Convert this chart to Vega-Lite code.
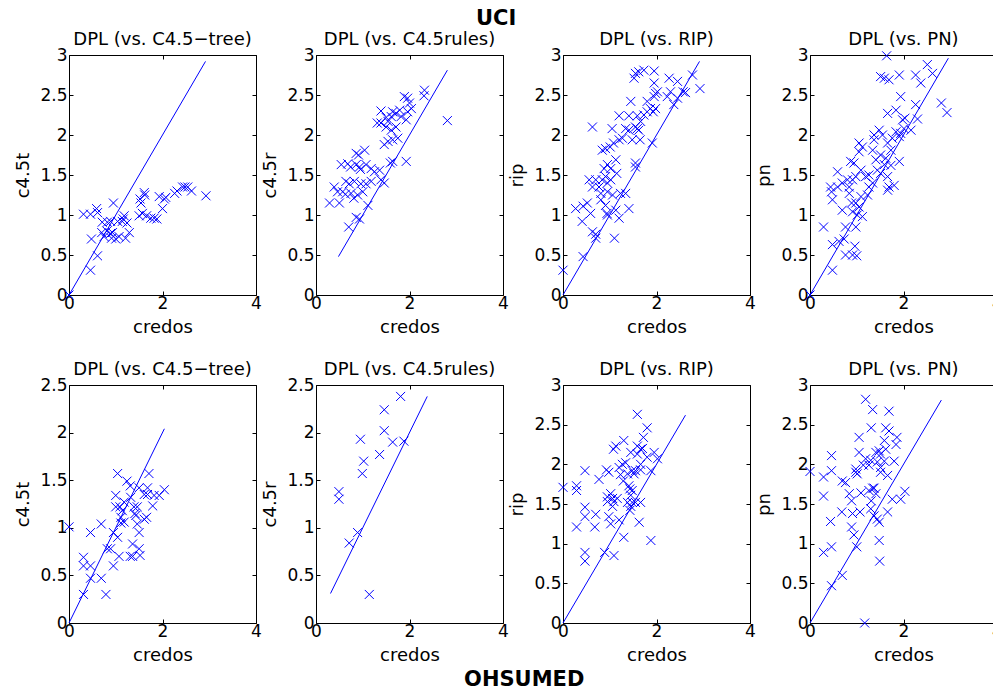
{
"$schema": "https://vega.github.io/schema/vega-lite/v6.json",
"padding": {"left": 13, "top": 7, "right": -8, "bottom": -2},
"background": "white",
"config": {
  "view": {"stroke": "black", "strokeWidth": 1},
  "point": {"shape": "M-1,-1L1,1M-1,1L1,-1", "filled": false, "color": "#0000ff", "size": 81, "strokeWidth": 1, "opacity": 1},
  "line": {"color": "#0000ff", "strokeWidth": 1},
  "axis": {"grid": false, "domain": false, "tickColor": "black", "tickSize": -4, "labelFont": "DejaVu Sans", "labelFontSize": 17, "labelColor": "black", "titleFont": "DejaVu Sans", "titleFontSize": 18, "titleFontWeight": "normal", "titleColor": "black", "labelFlush": false, "labelOverlap": false},
  "axisX": {"labelPadding": 4, "titleY": 37, "titleBaseline": "alphabetic"},
  "axisY": {"labelPadding": 6, "titleX": -41, "titleBaseline": "alphabetic"},
  "title": {"font": "DejaVu Sans", "fontSize": 18, "fontWeight": "normal", "color": "black", "frame": "group", "baseline": "alphabetic", "offset": -3, "anchor": "middle"}
},
"datasets": {
"p1": [{"credos":0,"value":0},{"credos":0.31,"value":1.01},{"credos":0.46,"value":1.01},{"credos":0.59,"value":1.08},{"credos":0.61,"value":1.03},{"credos":0.48,"value":0.70},{"credos":0.61,"value":0.49},{"credos":0.46,"value":0.31},{"credos":0.95,"value":1.15},{"credos":0.71,"value":0.91},{"credos":0.82,"value":0.91},{"credos":0.89,"value":0.92},{"credos":1.04,"value":0.92},{"credos":1.18,"value":0.99},{"credos":1.16,"value":0.95},{"credos":0.70,"value":0.78},{"credos":0.81,"value":0.80},{"credos":0.89,"value":0.77},{"credos":0.93,"value":0.78},{"credos":0.75,"value":0.73},{"credos":0.91,"value":0.71},{"credos":1.07,"value":0.73},{"credos":1.21,"value":0.71},{"credos":1.29,"value":0.78},{"credos":1.14,"value":0.92},{"credos":1.24,"value":0.90},{"credos":1.0,"value":0.70},{"credos":1.5,"value":0.99},{"credos":1.57,"value":1.02},{"credos":1.66,"value":0.99},{"credos":1.75,"value":0.96},{"credos":1.82,"value":0.96},{"credos":1.88,"value":0.95},{"credos":1.52,"value":1.20},{"credos":1.61,"value":1.28},{"credos":1.62,"value":1.25},{"credos":1.54,"value":1.15},{"credos":1.93,"value":1.23},{"credos":2.04,"value":1.20},{"credos":2.0,"value":1.08},{"credos":2.07,"value":1.22},{"credos":2.26,"value":1.27},{"credos":2.31,"value":1.30},{"credos":2.43,"value":1.35},{"credos":2.48,"value":1.35},{"credos":2.54,"value":1.35},{"credos":2.62,"value":1.30},{"credos":2.93,"value":1.24}],
"p2": [{"credos":0.29,"value":1.15},{"credos":0.5,"value":1.15},{"credos":0.39,"value":1.35},{"credos":0.46,"value":1.29},{"credos":0.57,"value":1.29},{"credos":0.63,"value":1.26},{"credos":0.70,"value":0.85},{"credos":0.86,"value":0.97},{"credos":0.93,"value":0.95},{"credos":1.11,"value":1.12},{"credos":0.64,"value":1.42},{"credos":0.71,"value":1.39},{"credos":0.82,"value":1.42},{"credos":0.96,"value":1.39},{"credos":1.07,"value":1.39},{"credos":1.18,"value":1.42},{"credos":0.54,"value":1.63},{"credos":0.68,"value":1.64},{"credos":0.74,"value":1.60},{"credos":0.86,"value":1.63},{"credos":0.93,"value":1.60},{"credos":0.95,"value":1.57},{"credos":1.07,"value":1.63},{"credos":1.18,"value":1.58},{"credos":0.86,"value":1.77},{"credos":0.91,"value":1.75},{"credos":1.04,"value":1.81},{"credos":0.89,"value":1.25},{"credos":0.81,"value":1.21},{"credos":0.75,"value":1.27},{"credos":1.0,"value":1.29},{"credos":1.39,"value":1.44},{"credos":1.46,"value":1.40},{"credos":1.36,"value":1.56},{"credos":1.25,"value":1.54},{"credos":1.59,"value":1.65},{"credos":1.64,"value":1.67},{"credos":1.93,"value":1.67},{"credos":1.46,"value":1.88},{"credos":1.54,"value":1.92},{"credos":1.64,"value":1.94},{"credos":1.75,"value":1.96},{"credos":1.31,"value":2.15},{"credos":1.5,"value":2.10},{"credos":1.61,"value":2.06},{"credos":1.71,"value":2.10},{"credos":1.39,"value":2.30},{"credos":1.5,"value":2.22},{"credos":1.54,"value":2.17},{"credos":1.61,"value":2.23},{"credos":1.71,"value":2.27},{"credos":1.79,"value":2.31},{"credos":1.82,"value":2.23},{"credos":1.93,"value":2.19},{"credos":1.89,"value":2.48},{"credos":1.96,"value":2.46},{"credos":2.0,"value":2.40},{"credos":2.04,"value":2.33},{"credos":1.96,"value":2.29},{"credos":2.32,"value":2.56},{"credos":2.31,"value":2.49},{"credos":2.81,"value":2.18},{"credos":1.64,"value":2.29},{"credos":1.39,"value":2.15}],
"p3": [{"credos":0,"value":0.31},{"credos":0.43,"value":0.48},{"credos":0.27,"value":1.08},{"credos":0.43,"value":1.11},{"credos":0.52,"value":1.15},{"credos":0.41,"value":0.92},{"credos":0.59,"value":1.02},{"credos":0.63,"value":0.79},{"credos":0.70,"value":0.76},{"credos":0.70,"value":0.71},{"credos":1.1,"value":0.71},{"credos":1.2,"value":0.96},{"credos":1.41,"value":1.08},{"credos":0.56,"value":1.44},{"credos":0.63,"value":1.35},{"credos":0.70,"value":1.44},{"credos":0.77,"value":1.35},{"credos":0.84,"value":1.44},{"credos":0.95,"value":1.40},{"credos":1.02,"value":1.44},{"credos":0.81,"value":1.27},{"credos":0.95,"value":1.29},{"credos":1.06,"value":1.25},{"credos":0.91,"value":1.12},{"credos":0.94,"value":1.02},{"credos":0.95,"value":1.0},{"credos":1.13,"value":1.06},{"credos":1.23,"value":1.27},{"credos":1.34,"value":1.27},{"credos":0.81,"value":1.19},{"credos":0.88,"value":1.58},{"credos":0.95,"value":1.63},{"credos":1.02,"value":1.58},{"credos":1.13,"value":1.69},{"credos":1.15,"value":1.52},{"credos":0.91,"value":1.48},{"credos":0.84,"value":1.81},{"credos":0.91,"value":1.83},{"credos":1.01,"value":1.85},{"credos":1.08,"value":1.90},{"credos":0.63,"value":2.10},{"credos":1.05,"value":2.08},{"credos":1.2,"value":1.94},{"credos":1.27,"value":1.96},{"credos":1.2,"value":2.24},{"credos":1.34,"value":2.08},{"credos":1.41,"value":2.06},{"credos":1.48,"value":1.94},{"credos":1.45,"value":2.42},{"credos":1.41,"value":2.24},{"credos":1.59,"value":2.24},{"credos":1.55,"value":2.10},{"credos":1.62,"value":2.06},{"credos":1.65,"value":1.94},{"credos":1.59,"value":2.08},{"credos":1.66,"value":2.17},{"credos":1.73,"value":2.25},{"credos":1.80,"value":2.29},{"credos":1.87,"value":2.33},{"credos":1.80,"value":2.42},{"credos":1.93,"value":2.29},{"credos":1.98,"value":2.33},{"credos":1.95,"value":2.48},{"credos":1.98,"value":2.52},{"credos":2.02,"value":2.54},{"credos":1.95,"value":2.65},{"credos":1.55,"value":2.77},{"credos":1.62,"value":2.79},{"credos":1.73,"value":2.81},{"credos":1.95,"value":2.80},{"credos":1.52,"value":2.71},{"credos":1.55,"value":1.65},{"credos":1.55,"value":1.60},{"credos":1.91,"value":1.90},{"credos":2.27,"value":2.71},{"credos":2.45,"value":2.67},{"credos":2.30,"value":2.54},{"credos":2.45,"value":2.46},{"credos":2.37,"value":2.38},{"credos":2.62,"value":2.53},{"credos":2.77,"value":2.75},{"credos":2.93,"value":2.58},{"credos":2.57,"value":2.54},{"credos":2.23,"value":2.48}],
"p4": [{"credos":0,"value":0},{"credos":0.29,"value":0.85},{"credos":0.48,"value":0.31},{"credos":0.48,"value":0.63},{"credos":0.62,"value":0.67},{"credos":0.73,"value":0.70},{"credos":0.76,"value":0.50},{"credos":0.91,"value":0.50},{"credos":1.0,"value":0.49},{"credos":0.96,"value":0.61},{"credos":0.98,"value":0.85},{"credos":0.76,"value":0.85},{"credos":0.69,"value":1.06},{"credos":0.48,"value":1.19},{"credos":0.44,"value":1.35},{"credos":0.46,"value":1.29},{"credos":0.59,"value":1.54},{"credos":0.59,"value":1.35},{"credos":0.69,"value":1.40},{"credos":0.80,"value":1.44},{"credos":0.91,"value":1.44},{"credos":0.98,"value":1.48},{"credos":0.84,"value":1.35},{"credos":0.84,"value":1.27},{"credos":0.89,"value":1.15},{"credos":0.91,"value":1.04},{"credos":0.98,"value":1.15},{"credos":1.09,"value":1.23},{"credos":1.05,"value":1.10},{"credos":1.12,"value":0.98},{"credos":1.01,"value":1.0},{"credos":1.23,"value":1.25},{"credos":1.26,"value":1.35},{"credos":1.34,"value":1.40},{"credos":1.19,"value":1.48},{"credos":1.26,"value":1.50},{"credos":0.87,"value":1.67},{"credos":0.94,"value":1.65},{"credos":1.05,"value":1.79},{"credos":1.12,"value":1.85},{"credos":1.05,"value":1.90},{"credos":1.37,"value":2.0},{"credos":1.48,"value":2.06},{"credos":1.55,"value":2.0},{"credos":1.41,"value":1.69},{"credos":1.51,"value":1.75},{"credos":1.62,"value":1.71},{"credos":1.59,"value":1.63},{"credos":1.44,"value":1.56},{"credos":1.51,"value":1.52},{"credos":1.66,"value":1.48},{"credos":1.69,"value":1.35},{"credos":1.80,"value":1.37},{"credos":1.66,"value":1.31},{"credos":1.73,"value":1.62},{"credos":1.91,"value":1.67},{"credos":1.66,"value":1.90},{"credos":1.73,"value":1.81},{"credos":1.76,"value":1.96},{"credos":1.84,"value":2.04},{"credos":1.91,"value":1.98},{"credos":1.94,"value":2.02},{"credos":2.01,"value":2.08},{"credos":1.98,"value":2.19},{"credos":2.03,"value":2.21},{"credos":1.84,"value":2.31},{"credos":1.66,"value":2.27},{"credos":1.94,"value":2.48},{"credos":1.51,"value":2.73},{"credos":1.59,"value":2.71},{"credos":1.69,"value":2.69},{"credos":1.91,"value":2.75},{"credos":1.64,"value":2.99},{"credos":2.26,"value":2.75},{"credos":2.37,"value":2.65},{"credos":2.51,"value":2.88},{"credos":2.62,"value":2.77},{"credos":2.26,"value":2.38},{"credos":2.30,"value":2.20},{"credos":2.81,"value":2.40},{"credos":2.93,"value":2.28},{"credos":2.16,"value":2.06},{"credos":1.34,"value":1.81},{"credos":1.37,"value":1.94},{"credos":1.09,"value":1.56}],
"p5": [{"credos":0,"value":1.01},{"credos":0.31,"value":0.69},{"credos":0.31,"value":0.60},{"credos":0.46,"value":0.60},{"credos":0.46,"value":0.95},{"credos":0.69,"value":1.04},{"credos":0.46,"value":0.47},{"credos":0.69,"value":0.47},{"credos":0.31,"value":0.30},{"credos":0.79,"value":0.30},{"credos":0.82,"value":0.78},{"credos":0.89,"value":0.78},{"credos":0.95,"value":0.60},{"credos":0.95,"value":0.95},{"credos":1.04,"value":0.90},{"credos":1.0,"value":1.34},{"credos":1.04,"value":1.57},{"credos":1.07,"value":0.70},{"credos":1.0,"value":1.22},{"credos":1.09,"value":1.22},{"credos":1.18,"value":1.27},{"credos":1.11,"value":1.05},{"credos":1.18,"value":1.06},{"credos":1.24,"value":1.49},{"credos":1.31,"value":1.44},{"credos":1.32,"value":1.32},{"credos":1.39,"value":1.22},{"credos":1.36,"value":0.83},{"credos":1.31,"value":0.70},{"credos":1.36,"value":0.70},{"credos":1.43,"value":1.13},{"credos":1.46,"value":1.22},{"credos":1.41,"value":1.15},{"credos":1.5,"value":0.95},{"credos":1.5,"value":0.78},{"credos":1.52,"value":0.71},{"credos":1.46,"value":1.04},{"credos":1.5,"value":1.42},{"credos":1.61,"value":1.35},{"credos":1.68,"value":1.35},{"credos":1.71,"value":1.57},{"credos":1.66,"value":1.11},{"credos":1.61,"value":1.09},{"credos":1.79,"value":1.23},{"credos":1.82,"value":1.34},{"credos":1.93,"value":1.34},{"credos":2.04,"value":1.40},{"credos":1.68,"value":1.42},{"credos":1.11,"value":1.11},{"credos":1.14,"value":1.18}],
"p6": [{"credos":0.49,"value":1.38},{"credos":0.49,"value":1.30},{"credos":0.71,"value":0.84},{"credos":0.89,"value":0.95},{"credos":0.95,"value":1.93},{"credos":1.02,"value":1.70},{"credos":0.99,"value":1.57},{"credos":1.14,"value":0.30},{"credos":1.36,"value":1.77},{"credos":1.46,"value":2.02},{"credos":1.46,"value":2.24},{"credos":1.64,"value":1.90},{"credos":1.88,"value":1.91},{"credos":1.81,"value":2.38}],
"p7": [{"credos":0,"value":1.71},{"credos":0.29,"value":1.73},{"credos":0.29,"value":1.67},{"credos":0.29,"value":1.21},{"credos":0.47,"value":1.92},{"credos":0.47,"value":1.46},{"credos":0.47,"value":1.34},{"credos":0.47,"value":0.89},{"credos":0.47,"value":0.78},{"credos":0.70,"value":1.37},{"credos":0.68,"value":1.21},{"credos":0.77,"value":1.81},{"credos":0.89,"value":0.89},{"credos":0.93,"value":1.93},{"credos":0.98,"value":1.90},{"credos":0.95,"value":1.59},{"credos":1.02,"value":1.63},{"credos":1.06,"value":1.57},{"credos":0.95,"value":1.53},{"credos":1.09,"value":1.53},{"credos":1.16,"value":1.57},{"credos":0.98,"value":1.34},{"credos":1.02,"value":1.25},{"credos":1.2,"value":1.30},{"credos":1.09,"value":0.85},{"credos":1.30,"value":1.08},{"credos":1.06,"value":1.47},{"credos":1.08,"value":2.19},{"credos":1.13,"value":2.23},{"credos":1.30,"value":2.30},{"credos":1.2,"value":1.96},{"credos":1.27,"value":2.0},{"credos":1.34,"value":2.02},{"credos":1.23,"value":1.87},{"credos":1.29,"value":1.79},{"credos":1.38,"value":1.88},{"credos":1.45,"value":2.15},{"credos":1.41,"value":1.73},{"credos":1.43,"value":1.69},{"credos":1.48,"value":1.67},{"credos":1.45,"value":1.61},{"credos":1.48,"value":1.52},{"credos":1.38,"value":1.52},{"credos":1.43,"value":1.42},{"credos":1.45,"value":1.47},{"credos":1.55,"value":1.52},{"credos":1.59,"value":2.63},{"credos":1.59,"value":2.23},{"credos":1.66,"value":2.19},{"credos":1.59,"value":2.13},{"credos":1.72,"value":2.34},{"credos":1.70,"value":2.20},{"credos":1.80,"value":2.46},{"credos":1.80,"value":2.09},{"credos":1.95,"value":2.15},{"credos":2.02,"value":2.07},{"credos":1.88,"value":1.92},{"credos":1.63,"value":1.27},{"credos":1.66,"value":1.52},{"credos":1.48,"value":1.92},{"credos":1.55,"value":1.92},{"credos":1.66,"value":1.93},{"credos":1.88,"value":1.04},{"credos":1.66,"value":2.0},{"credos":1.52,"value":1.88}],
"p8": [{"credos":0,"value":1.91},{"credos":0.29,"value":0.89},{"credos":0.29,"value":1.84},{"credos":0.29,"value":1.60},{"credos":0.46,"value":2.11},{"credos":0.46,"value":1.92},{"credos":0.44,"value":1.28},{"credos":0.46,"value":0.96},{"credos":0.46,"value":0.47},{"credos":0.69,"value":0.60},{"credos":0.69,"value":1.79},{"credos":0.76,"value":1.77},{"credos":0.68,"value":1.40},{"credos":0.84,"value":1.63},{"credos":0.89,"value":1.54},{"credos":0.89,"value":1.21},{"credos":0.94,"value":1.11},{"credos":0.91,"value":1.38},{"credos":0.98,"value":1.90},{"credos":0.98,"value":1.94},{"credos":1.01,"value":1.88},{"credos":1.0,"value":0.96},{"credos":1.05,"value":2.34},{"credos":1.05,"value":2.15},{"credos":1.07,"value":1.40},{"credos":1.09,"value":1.64},{"credos":1.19,"value":2.82},{"credos":1.17,"value":0},{"credos":1.14,"value":1.99},{"credos":1.19,"value":2.07},{"credos":1.3,"value":2.05},{"credos":1.26,"value":1.67},{"credos":1.31,"value":2.46},{"credos":1.34,"value":2.69},{"credos":1.34,"value":1.70},{"credos":1.37,"value":1.70},{"credos":1.31,"value":1.54},{"credos":1.3,"value":1.44},{"credos":1.37,"value":1.35},{"credos":1.44,"value":1.31},{"credos":1.48,"value":1.27},{"credos":1.48,"value":1.04},{"credos":1.49,"value":0.78},{"credos":1.41,"value":1.63},{"credos":1.41,"value":2.15},{"credos":1.48,"value":2.17},{"credos":1.51,"value":2.13},{"credos":1.44,"value":2.03},{"credos":1.51,"value":1.96},{"credos":1.51,"value":1.90},{"credos":1.59,"value":2.30},{"credos":1.62,"value":2.46},{"credos":1.69,"value":2.42},{"credos":1.69,"value":2.67},{"credos":1.62,"value":2.19},{"credos":1.66,"value":1.86},{"credos":1.66,"value":1.40},{"credos":1.76,"value":1.56},{"credos":1.80,"value":2.04},{"credos":1.84,"value":2.25},{"credos":1.86,"value":2.34},{"credos":1.94,"value":1.56},{"credos":2.03,"value":1.66},{"credos":1.59,"value":2.04},{"credos":1.26,"value":1.99}]
},
"vconcat": [
 {
  "title": {"text": "UCI", "fontSize": 21, "fontWeight": "bold", "frame": "bounds", "offset": 2, "dx": -12},
  "spacing": 60, "bounds": "flush",
  "hconcat": [
   {"width": 187, "height": 240, "title": "DPL (vs. C4.5−tree)", "resolve": {"axis": {"x": "independent", "y": "independent"}},
    "layer": [
     {"data": {"name": "p1"}, "mark": {"type": "point", "clip": false},
      "encoding": {"x": {"field": "credos", "type": "quantitative", "scale": {"domain": [0, 4], "nice": false}, "axis": {"orient": "bottom", "values": [0, 2, 4], "title": "credos"}},
                   "y": {"field": "value", "type": "quantitative", "scale": {"domain": [0, 3], "nice": false}, "axis": {"orient": "left", "values": [0, 0.5, 1, 1.5, 2, 2.5, 3], "format": "~g", "title": "c4.5t"}}}},
     {"data": {"values": [{"credos": 0, "value": 0}, {"credos": 2.92, "value": 2.92}]}, "mark": "line",
      "encoding": {"x": {"field": "credos", "type": "quantitative", "axis": {"orient": "top", "values": [0, 2, 4], "labels": false, "title": null}},
                   "y": {"field": "value", "type": "quantitative", "axis": {"orient": "right", "values": [0, 0.5, 1, 1.5, 2, 2.5, 3], "labels": false, "title": null}}}}
    ]},
   {"width": 187, "height": 240, "title": "DPL (vs. C4.5rules)", "resolve": {"axis": {"x": "independent", "y": "independent"}},
    "layer": [
     {"data": {"name": "p2"}, "mark": {"type": "point", "clip": false},
      "encoding": {"x": {"field": "credos", "type": "quantitative", "scale": {"domain": [0, 4], "nice": false}, "axis": {"orient": "bottom", "values": [0, 2, 4], "title": "credos"}},
                   "y": {"field": "value", "type": "quantitative", "scale": {"domain": [0, 3], "nice": false}, "axis": {"orient": "left", "values": [0, 0.5, 1, 1.5, 2, 2.5, 3], "format": "~g", "title": "c4.5r"}}}},
     {"data": {"values": [{"credos": 0.48, "value": 0.48}, {"credos": 2.81, "value": 2.81}]}, "mark": "line",
      "encoding": {"x": {"field": "credos", "type": "quantitative", "axis": {"orient": "top", "values": [0, 2, 4], "labels": false, "title": null}},
                   "y": {"field": "value", "type": "quantitative", "axis": {"orient": "right", "values": [0, 0.5, 1, 1.5, 2, 2.5, 3], "labels": false, "title": null}}}}
    ]},
   {"width": 187, "height": 240, "title": "DPL (vs. RIP)", "resolve": {"axis": {"x": "independent", "y": "independent"}},
    "layer": [
     {"data": {"name": "p3"}, "mark": {"type": "point", "clip": false},
      "encoding": {"x": {"field": "credos", "type": "quantitative", "scale": {"domain": [0, 4], "nice": false}, "axis": {"orient": "bottom", "values": [0, 2, 4], "title": "credos"}},
                   "y": {"field": "value", "type": "quantitative", "scale": {"domain": [0, 3], "nice": false}, "axis": {"orient": "left", "values": [0, 0.5, 1, 1.5, 2, 2.5, 3], "format": "~g", "title": "rip"}}}},
     {"data": {"values": [{"credos": 0, "value": 0}, {"credos": 2.92, "value": 2.92}]}, "mark": "line",
      "encoding": {"x": {"field": "credos", "type": "quantitative", "axis": {"orient": "top", "values": [0, 2, 4], "labels": false, "title": null}},
                   "y": {"field": "value", "type": "quantitative", "axis": {"orient": "right", "values": [0, 0.5, 1, 1.5, 2, 2.5, 3], "labels": false, "title": null}}}}
    ]},
   {"width": 187, "height": 240, "title": "DPL (vs. PN)", "resolve": {"axis": {"x": "independent", "y": "independent"}},
    "layer": [
     {"data": {"name": "p4"}, "mark": {"type": "point", "clip": false},
      "encoding": {"x": {"field": "credos", "type": "quantitative", "scale": {"domain": [0, 4], "nice": false}, "axis": {"orient": "bottom", "values": [0, 2, 4], "title": "credos"}},
                   "y": {"field": "value", "type": "quantitative", "scale": {"domain": [0, 3], "nice": false}, "axis": {"orient": "left", "values": [0, 0.5, 1, 1.5, 2, 2.5, 3], "format": "~g", "title": "pn"}}}},
     {"data": {"values": [{"credos": 0, "value": 0}, {"credos": 2.96, "value": 2.96}]}, "mark": "line",
      "encoding": {"x": {"field": "credos", "type": "quantitative", "axis": {"orient": "top", "values": [0, 2, 4], "labels": false, "title": null}},
                   "y": {"field": "value", "type": "quantitative", "axis": {"orient": "right", "values": [0, 0.5, 1, 1.5, 2, 2.5, 3], "labels": false, "title": null}}}}
    ]}
  ]
 },
 {
  "title": {"text": "OHSUMED", "orient": "bottom", "fontSize": 21, "fontWeight": "bold", "frame": "bounds", "offset": 4, "dx": 16},
  "spacing": 60, "bounds": "flush",
  "hconcat": [
   {"width": 187, "height": 238, "title": "DPL (vs. C4.5−tree)", "resolve": {"axis": {"x": "independent", "y": "independent"}},
    "layer": [
     {"data": {"name": "p5"}, "mark": {"type": "point", "clip": false},
      "encoding": {"x": {"field": "credos", "type": "quantitative", "scale": {"domain": [0, 4], "nice": false}, "axis": {"orient": "bottom", "values": [0, 2, 4], "title": "credos"}},
                   "y": {"field": "value", "type": "quantitative", "scale": {"domain": [0, 2.5], "nice": false}, "axis": {"orient": "left", "values": [0, 0.5, 1, 1.5, 2, 2.5], "format": "~g", "title": "c4.5t"}}}},
     {"data": {"values": [{"credos": 0, "value": 0}, {"credos": 2.04, "value": 2.04}]}, "mark": "line",
      "encoding": {"x": {"field": "credos", "type": "quantitative", "axis": {"orient": "top", "values": [0, 2, 4], "labels": false, "title": null}},
                   "y": {"field": "value", "type": "quantitative", "axis": {"orient": "right", "values": [0, 0.5, 1, 1.5, 2, 2.5], "labels": false, "title": null}}}}
    ]},
   {"width": 187, "height": 238, "title": "DPL (vs. C4.5rules)", "resolve": {"axis": {"x": "independent", "y": "independent"}},
    "layer": [
     {"data": {"name": "p6"}, "mark": {"type": "point", "clip": false},
      "encoding": {"x": {"field": "credos", "type": "quantitative", "scale": {"domain": [0, 4], "nice": false}, "axis": {"orient": "bottom", "values": [0, 2, 4], "title": "credos"}},
                   "y": {"field": "value", "type": "quantitative", "scale": {"domain": [0, 2.5], "nice": false}, "axis": {"orient": "left", "values": [0, 0.5, 1, 1.5, 2, 2.5], "format": "~g", "title": "c4.5r"}}}},
     {"data": {"values": [{"credos": 0.31, "value": 0.31}, {"credos": 2.38, "value": 2.38}]}, "mark": "line",
      "encoding": {"x": {"field": "credos", "type": "quantitative", "axis": {"orient": "top", "values": [0, 2, 4], "labels": false, "title": null}},
                   "y": {"field": "value", "type": "quantitative", "axis": {"orient": "right", "values": [0, 0.5, 1, 1.5, 2, 2.5], "labels": false, "title": null}}}}
    ]},
   {"width": 187, "height": 238, "title": "DPL (vs. RIP)", "resolve": {"axis": {"x": "independent", "y": "independent"}},
    "layer": [
     {"data": {"name": "p7"}, "mark": {"type": "point", "clip": false},
      "encoding": {"x": {"field": "credos", "type": "quantitative", "scale": {"domain": [0, 4], "nice": false}, "axis": {"orient": "bottom", "values": [0, 2, 4], "title": "credos"}},
                   "y": {"field": "value", "type": "quantitative", "scale": {"domain": [0, 3], "nice": false}, "axis": {"orient": "left", "values": [0, 0.5, 1, 1.5, 2, 2.5, 3], "format": "~g", "title": "rip"}}}},
     {"data": {"values": [{"credos": 0, "value": 0}, {"credos": 2.62, "value": 2.62}]}, "mark": "line",
      "encoding": {"x": {"field": "credos", "type": "quantitative", "axis": {"orient": "top", "values": [0, 2, 4], "labels": false, "title": null}},
                   "y": {"field": "value", "type": "quantitative", "axis": {"orient": "right", "values": [0, 0.5, 1, 1.5, 2, 2.5, 3], "labels": false, "title": null}}}}
    ]},
   {"width": 187, "height": 238, "title": "DPL (vs. PN)", "resolve": {"axis": {"x": "independent", "y": "independent"}},
    "layer": [
     {"data": {"name": "p8"}, "mark": {"type": "point", "clip": false},
      "encoding": {"x": {"field": "credos", "type": "quantitative", "scale": {"domain": [0, 4], "nice": false}, "axis": {"orient": "bottom", "values": [0, 2, 4], "title": "credos"}},
                   "y": {"field": "value", "type": "quantitative", "scale": {"domain": [0, 3], "nice": false}, "axis": {"orient": "left", "values": [0, 0.5, 1, 1.5, 2, 2.5, 3], "format": "~g", "title": "pn"}}}},
     {"data": {"values": [{"credos": 0, "value": 0}, {"credos": 2.81, "value": 2.81}]}, "mark": "line",
      "encoding": {"x": {"field": "credos", "type": "quantitative", "axis": {"orient": "top", "values": [0, 2, 4], "labels": false, "title": null}},
                   "y": {"field": "value", "type": "quantitative", "axis": {"orient": "right", "values": [0, 0.5, 1, 1.5, 2, 2.5, 3], "labels": false, "title": null}}}}
    ]}
  ]
 }
],
"spacing": 23
}
